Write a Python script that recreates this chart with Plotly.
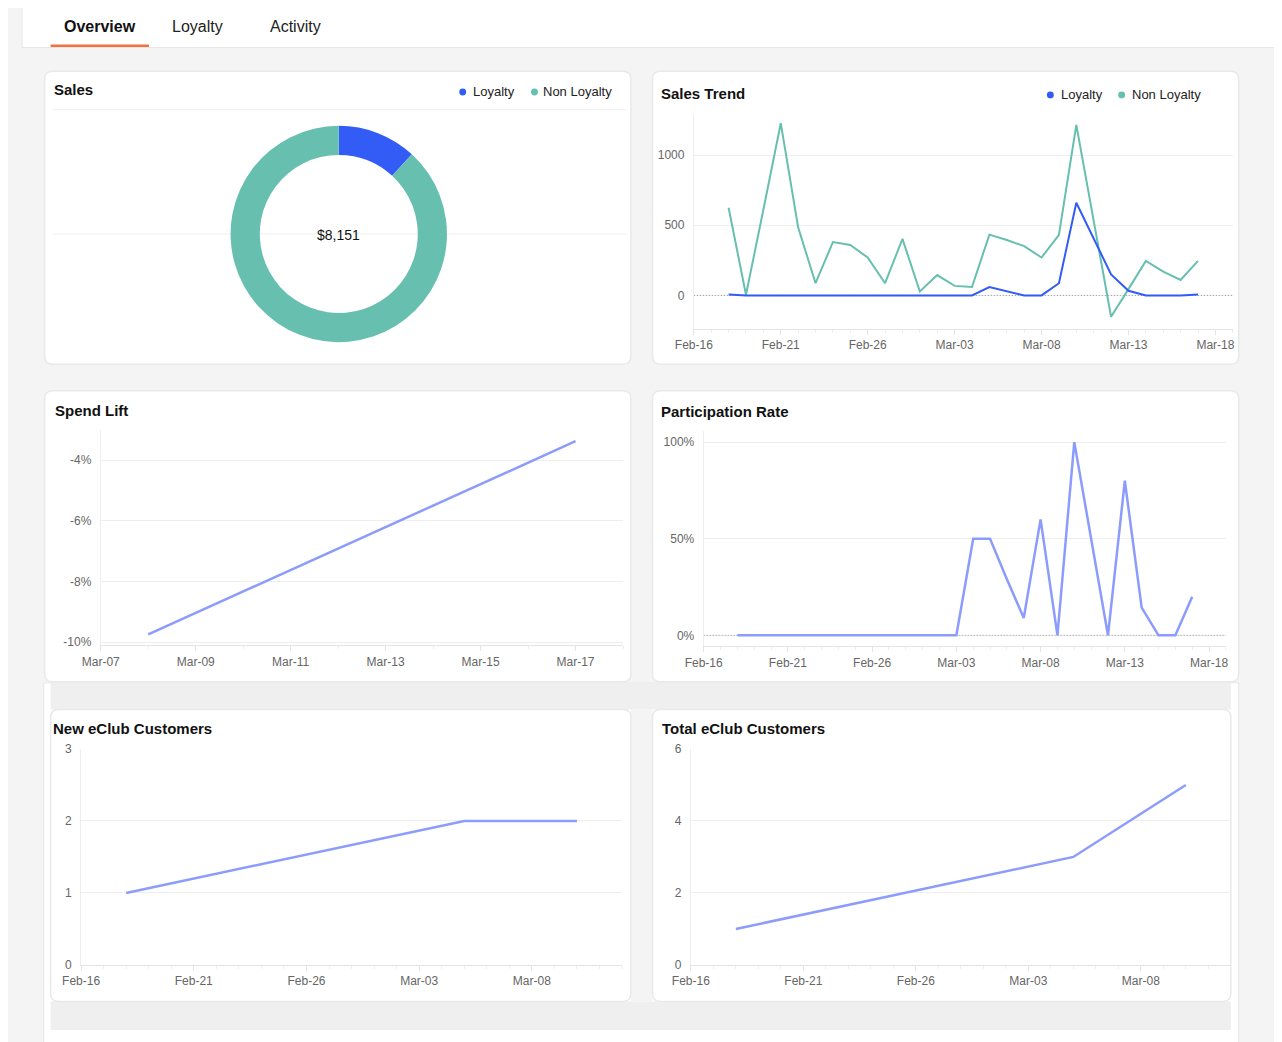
import plotly.graph_objects as go

# the page keeps the browser's 8px body margin, so the figure is drawn
# 8px smaller and every pixel position is shifted back by that amount
PAGE_W, PAGE_H = 1282, 1042
OFF = 8
W, H = PAGE_W - OFF, PAGE_H - OFF

# ---- data ----
tabs = ["Overview", "Loyalty", "Activity"]

sales_labels = ["Loyalty", "Non Loyalty"]
sales_values = [962, 7189]

trend_dates = [
    "2023-02-18", "2023-02-19", "2023-02-20", "2023-02-21", "2023-02-22",
    "2023-02-23", "2023-02-24", "2023-02-25", "2023-02-26", "2023-02-27",
    "2023-02-28", "2023-03-01", "2023-03-02", "2023-03-03", "2023-03-04",
    "2023-03-05", "2023-03-06", "2023-03-07", "2023-03-08", "2023-03-09",
    "2023-03-10", "2023-03-11", "2023-03-12", "2023-03-13", "2023-03-14",
    "2023-03-15", "2023-03-16", "2023-03-17",
]
trend_loyalty = [7, 0, 0, 0, 0, 0, 0, 0, 0, 0, 0, 0, 0, 0, 0,
                 59, 28, 0, 0, 87, 660, 400, 150, 33, 0, 0, 0, 7]
trend_non_loyalty = [625, 5, 610, 1227, 485, 87, 380, 360, 270, 87, 403, 28, 145, 68, 60,
                     433, 395, 351, 270, 431, 1215, 545, -152, 45, 246, 169, 110, 246]

participation = [0, 0, 0, 0, 0, 0, 0, 0, 0, 0, 0, 0, 0, 0,
                 50, 50, 29, 9, 60, 0, 100, 50, 0, 80, 14.3, 0, 0, 20]

lift_dates = ["2023-03-08", "2023-03-17"]
lift_values = [-9.75, -3.38]

eclub_dates = ["2023-02-18", "2023-03-05", "2023-03-10"]
eclub_new = [1, 2, 2]
eclub_total = [1, 3, 5]

BLUE = "#335cf6"
TEAL = "#67bfb0"
PERI = "#8b9cfc"
FONT = "Liberation Sans, Arial, sans-serif"


def X(px):
    return (px - OFF) / W


def Y(py):
    return 1 - (py - OFF) / H


def rounded(x0, y0, x1, y1, r=8):
    return (f"M {X(x0 + r)},{Y(y0)} L {X(x1 - r)},{Y(y0)} "
            f"Q {X(x1)},{Y(y0)} {X(x1)},{Y(y0 + r)} L {X(x1)},{Y(y1 - r)} "
            f"Q {X(x1)},{Y(y1)} {X(x1 - r)},{Y(y1)} L {X(x0 + r)},{Y(y1)} "
            f"Q {X(x0)},{Y(y1)} {X(x0)},{Y(y1 - r)} L {X(x0)},{Y(y0 + r)} "
            f"Q {X(x0)},{Y(y0)} {X(x0 + r)},{Y(y0)} Z")


def rect(x0, y0, x1, y1, fill, line=None):
    return dict(type="rect", xref="paper", yref="paper", layer="below",
                x0=X(x0), x1=X(x1), y0=Y(y1), y1=Y(y0), fillcolor=fill,
                line=dict(width=1 if line else 0, color=line or fill))


def card(x0, y0, x1, y1):
    return dict(type="path", xref="paper", yref="paper", layer="below",
                path=rounded(x0, y0, x1, y1), fillcolor="white",
                line=dict(color="#e9e9e9", width=1.5))


def hline(x0, x1, y, color="#efefef"):
    return dict(type="line", xref="paper", yref="paper", layer="below",
                x0=X(x0), x1=X(x1), y0=Y(y), y1=Y(y), line=dict(color=color, width=1))


def dot(cx, cy, color, r=3.5):
    return dict(type="circle", xref="paper", yref="paper", layer="above",
                x0=X(cx - r), x1=X(cx + r), y0=Y(cy + r), y1=Y(cy - r),
                fillcolor=color, line=dict(width=0))


def text(x, y, s, size=13, bold=False, color="#222", anchor="left"):
    if bold:
        s = f"<b>{s}</b>"
    return dict(xref="paper", yref="paper", x=X(x), y=Y(y), text=s, showarrow=False,
                xanchor=anchor, yanchor="middle", font=dict(size=size, color=color, family=FONT))


fig = go.Figure()

# sales donut
fig.add_trace(go.Pie(
    labels=sales_labels, values=sales_values, hole=0.73, sort=False,
    direction="clockwise", textinfo="none", hoverinfo="label+value",
    marker=dict(colors=[BLUE, TEAL], line=dict(width=0)),
    domain=dict(x=[X(215), X(435)], y=[Y(340), Y(120)]), showlegend=False,
))

# sales trend
fig.add_trace(go.Scatter(x=trend_dates, y=trend_non_loyalty, mode="lines", name="Non Loyalty",
                         line=dict(color=TEAL, width=2), xaxis="x", yaxis="y"))
fig.add_trace(go.Scatter(x=trend_dates, y=trend_loyalty, mode="lines", name="Loyalty",
                         line=dict(color=BLUE, width=2), xaxis="x", yaxis="y"))

# spend lift
fig.add_trace(go.Scatter(x=lift_dates, y=lift_values, mode="lines", name="Spend Lift",
                         line=dict(color=PERI, width=2.5), xaxis="x2", yaxis="y2"))

# participation rate
fig.add_trace(go.Scatter(x=trend_dates, y=participation, mode="lines", name="Participation",
                         line=dict(color=PERI, width=2.5), xaxis="x3", yaxis="y3"))

# eclub
fig.add_trace(go.Scatter(x=eclub_dates, y=eclub_new, mode="lines", name="New",
                         line=dict(color=PERI, width=2.5), xaxis="x4", yaxis="y4"))
fig.add_trace(go.Scatter(x=eclub_dates, y=eclub_total, mode="lines", name="Total",
                         line=dict(color=PERI, width=2.5), xaxis="x5", yaxis="y5"))

tickfont = dict(size=12, color="#666", family=FONT)
DAY = 86400000
trend_range = ["2023-02-16", "2023-03-19"]


def xax(x0, x1, rng, tick0, step, anchor):
    return dict(type="date", domain=[X(x0), X(x1)], anchor=anchor, range=rng,
                tick0=tick0, dtick=step * DAY, tickformat="%b-%d",
                showline=True, linecolor="#e4e4e4", ticks="outside", ticklen=5,
                tickcolor="#e4e4e4", tickfont=tickfont, showgrid=False, zeroline=False,
                minor=dict(ticks="outside", ticklen=3, tickcolor="#eeeeee", dtick=DAY,
                           showgrid=False))


def yax(y0, y1, rng, vals, anchor, labels=None):
    ax = dict(domain=[Y(y1), Y(y0)], anchor=anchor, range=rng, tickvals=vals,
              showline=True, linecolor="#eeeeee", ticks="",
              showgrid=True, gridcolor="#eeeeee", zeroline=False, tickfont=tickfont,
              ticklabelstandoff=6)
    if labels:
        ax["ticktext"] = labels
    return ax


lift_ticks = [-10, -8, -6, -4]
part_ticks = [0, 50, 100]

fig.update_layout(
    xaxis=xax(686, 1234, trend_range, "2023-02-16", 5, "y"),
    yaxis=yax(108, 326, [-237, 1295], [0, 500, 1000], "x"),
    xaxis2=xax(83, 614, ["2023-03-07", "2023-03-18"], "2023-03-07", 2, "y2"),
    yaxis2=yax(429, 647, [-10.11, -3.02], lift_ticks, "x2", [f"{v}%" for v in lift_ticks]),
    xaxis3=xax(696, 1227, trend_range, "2023-02-16", 5, "y3"),
    yaxis3=yax(430, 648, [-5.7, 105.6], part_ticks, "x3", [f"{v}%" for v in part_ticks]),
    xaxis4=xax(63, 613, ["2023-02-16", "2023-03-12"], "2023-02-16", 5, "y4"),
    yaxis4=yax(752, 971, [0, 3], [0, 1, 2, 3], "x4"),
    xaxis5=xax(683, 1232, ["2023-02-16", "2023-03-12"], "2023-02-16", 5, "y5"),
    yaxis5=yax(752, 971, [0, 6], [0, 2, 4, 6], "x5"),
)

shapes = [
    # top nav
    rect(3, -2, 1280, 41, "white", "#e6e6e6"),
    rect(32, 38, 132, 40.5, "#f4703f"),
    # cards
    card(26, 65, 622, 362),
    card(644, 65, 1240, 362),
    card(26, 389, 622, 684),
    card(644, 389, 1240, 684),
    rect(25, 685, 1240, 1050, "white", "#e6e6e6"),
    rect(32, 685, 1232, 712, "#efefef"),
    rect(32, 1008, 1232, 1037, "#efefef"),
    rect(622, 712, 644, 1008, "#f4f4f4"),
    card(32, 712, 622, 1008),
    card(644, 712, 1232, 1008),
    # sales card rules
    hline(34, 617, 104),
    hline(34, 617, 230),
    # legend dots
    dot(451, 86, BLUE), dot(524, 86, TEAL),
    dot(1048.5, 89, BLUE), dot(1121, 89, TEAL),
]
# dotted zero lines, between grid and traces
for ya, xa in [("y", "x"), ("y3", "x3")]:
    shapes.append(dict(type="line", xref=xa, yref=ya, layer="between",
                       x0=trend_range[0], x1=trend_range[1], y0=0, y1=0,
                       line=dict(color="#999999", width=1, dash="1px,2px")))

annotations = [
    text(82, 20, tabs[0], size=16, bold=True, color="#111", anchor="center"),
    text(181, 20, tabs[1], size=16, color="#222", anchor="center"),
    text(281, 20, tabs[2], size=16, color="#222", anchor="center"),
    text(33, 84, "Sales", size=15, bold=True, color="#111"),
    text(459, 86, sales_labels[0]),
    text(531, 86, sales_labels[1]),
    text(325, 231, f"${sum(sales_values):,}", size=14, color="#111", anchor="center"),
    text(651, 88, "Sales Trend", size=15, bold=True, color="#111"),
    text(1057, 89, "Loyalty"),
    text(1129, 89, "Non Loyalty"),
    text(34, 409, "Spend Lift", size=15, bold=True, color="#111"),
    text(651, 410, "Participation Rate", size=15, bold=True, color="#111"),
    text(32, 731, "New eClub Customers", size=15, bold=True, color="#111"),
    text(652, 731, "Total eClub Customers", size=15, bold=True, color="#111"),
]

fig.update_layout(
    width=W, height=H, autosize=False,
    margin=dict(l=0, r=0, t=0, b=0),
    paper_bgcolor="#f4f4f4", plot_bgcolor="rgba(0,0,0,0)",
    font=dict(family=FONT, color="#222"),
    showlegend=False,
    shapes=shapes, annotations=annotations,
)

fig.write_html("out.html")
